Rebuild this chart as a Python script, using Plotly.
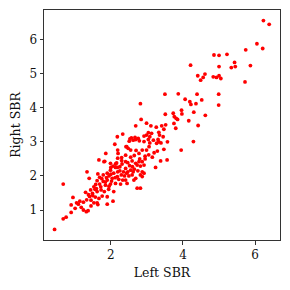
import plotly.graph_objects as go

# (Left SBR, Right SBR) readings
upper_x = [6.23, 6.39, 6.05, 6.21, 5.74, 4.86, 5.00, 5.22, 5.43, 5.45, 5.34, 5.87, 5.00, 4.21, 4.41, 4.61, 4.56, 4.49, 4.84, 4.93,
           5.00, 5.05, 5.72, 3.50, 3.87, 4.39, 4.99, 4.06, 4.19, 4.22, 4.52, 4.36, 4.99, 3.96, 3.97, 4.30, 4.62, 3.51, 3.73, 3.76,
           3.81, 3.85, 4.16, 3.75, 4.42, 3.52, 3.80, 2.99, 3.11, 3.26, 3.41, 3.47, 3.04, 3.13, 2.99, 3.33, 3.35, 3.45, 3.31, 3.39,
           3.27, 3.57, 4.29, 3.04, 3.08]
upper_y = [6.56, 6.45, 5.88, 5.74, 5.70, 5.55, 5.54, 5.57, 5.33, 5.21, 5.18, 5.24, 5.21, 5.25, 4.94, 4.99, 4.89, 4.81, 4.91, 4.89,
           4.94, 4.86, 4.76, 4.40, 4.41, 4.40, 4.40, 4.25, 4.18, 4.10, 4.23, 4.12, 4.08, 3.93, 3.82, 3.87, 3.78, 3.81, 3.84, 3.74,
           3.69, 3.66, 3.62, 3.54, 3.48, 3.50, 3.40, 3.55, 3.47, 3.43, 3.47, 3.37, 3.27, 3.25, 3.20, 3.28, 3.20, 3.15, 3.07, 2.97,
           2.96, 3.00, 3.01, 3.07, 2.97]

mid_x = [2.82, 2.84, 2.69, 2.33, 2.18, 2.53, 2.57, 2.67, 2.76, 2.51, 2.62, 2.79, 2.92, 2.11,
         2.92, 3.08, 2.69, 3.18, 3.33, 3.95, 3.47, 3.29, 3.06, 2.99, 2.87, 2.78, 2.55, 2.44,
         3.05, 3.15, 2.95, 3.20]
mid_y = [4.12, 3.66, 3.47, 3.23, 3.15, 3.09, 3.12, 3.13, 3.10, 3.02, 3.05, 3.03, 3.01, 2.93,
         3.17, 3.15, 3.07, 3.05, 3.00, 2.76, 2.78, 2.73, 2.86, 2.76, 2.76, 2.66, 2.76, 2.86,
         2.62, 2.55, 2.58, 2.68]

band_x = [3.24, 3.38, 3.56, 2.73, 2.82, 2.41, 2.45, 2.64, 2.87, 2.92, 2.82, 2.69, 2.59, 2.50, 2.44, 2.55, 2.62, 2.47, 2.41, 2.87,
          2.41, 2.47, 2.59, 2.69, 2.78, 2.73, 2.82, 2.87, 2.92,
          1.81, 1.86, 2.20, 2.30, 2.41, 2.42, 2.48, 2.13, 2.06, 2.18, 2.19, 2.19]
band_y = [2.25, 2.44, 2.47, 1.64, 1.64, 1.88, 1.78, 1.88, 1.98, 2.08, 2.03, 1.93, 2.03, 2.00, 2.08, 2.17, 2.12, 2.12, 2.22, 2.12,
          2.42, 2.39, 2.44, 2.37, 2.42, 2.32, 2.29, 2.42, 2.32,
          2.42, 2.66, 2.66, 2.54, 2.61, 2.86, 2.81, 2.35, 2.29, 2.25, 2.76, 2.52]

dense_x = [1.83, 1.99, 2.16, 2.25, 2.13, 2.31, 1.67, 1.34, 1.64, 1.69, 1.62, 1.40, 1.79, 1.90, 1.99, 2.08, 2.19, 2.29, 2.18, 2.04,
           1.90, 1.79, 1.69, 1.85, 1.99, 2.13, 2.27, 2.33, 1.53, 1.44, 1.56, 1.49, 1.62, 1.73, 1.82, 1.94, 2.08, 1.50, 1.41, 1.57,
           1.45, 1.53, 1.62, 1.67, 1.76, 1.90, 1.30, 1.64, 1.90, 2.06,
           1.58, 1.72, 1.88, 1.95, 2.02, 2.12, 2.22, 2.25, 2.35, 2.38, 2.52, 2.60, 2.65, 2.75, 2.80, 2.95, 2.55, 2.65, 2.70, 1.75,
           1.85, 1.60, 1.38, 1.33, 1.45, 1.18, 2.00, 2.30, 2.00, 1.95]
dense_y = [2.43, 2.37, 2.38, 2.27, 2.25, 2.35, 2.47, 2.12, 2.06, 1.96, 1.86, 1.93, 2.03, 2.08, 2.17, 2.08, 2.12, 2.03, 1.98, 1.93,
           1.88, 1.84, 1.76, 1.73, 1.76, 1.78, 1.76, 1.88, 1.68, 1.59, 1.61, 1.49, 1.54, 1.59, 1.54, 1.61, 1.54, 1.42, 1.40, 1.38,
           1.29, 1.21, 1.21, 1.34, 1.41, 1.39, 1.52, 1.16, 1.17, 1.26,
           1.75, 1.68, 1.95, 2.00, 1.85, 1.95, 1.90, 2.15, 2.12, 2.00, 2.30, 2.27, 2.20, 2.15, 2.50, 2.50, 2.55, 2.60, 2.75, 1.92,
           1.82, 1.63, 1.45, 1.30, 1.12, 1.08, 2.25, 2.45, 2.05, 1.70]

low_x = [0.44, 0.68, 0.76, 0.68, 0.90, 1.01, 0.90, 1.05, 1.10, 1.14, 1.24, 0.95, 1.24, 1.32, 1.37]
low_y = [0.43, 0.74, 0.79, 1.76, 0.93, 1.05, 1.15, 1.21, 1.17, 1.26, 1.23, 1.37, 1.00, 0.95, 0.98]

left_sbr = upper_x + mid_x + band_x + dense_x + low_x
right_sbr = upper_y + mid_y + band_y + dense_y + low_y

x_ticks = [2, 4, 6]
y_ticks = [1, 2, 3, 4, 5, 6]

tick_font = dict(family="DejaVu Serif", size=12, color="#111")
title_font = dict(family="DejaVu Serif", size=12.5, color="#111")

fig = go.Figure(go.Scatter(
    x=left_sbr, y=right_sbr, mode="markers",
    marker=dict(color="#ff0000", size=3.8, line=dict(width=0)),
    hoverinfo="skip"))

axis_common = dict(showline=True, mirror=True, linecolor="#333", linewidth=1,
                   ticks="outside", ticklen=3.5, tickcolor="#333", tickwidth=1,
                   showgrid=False, zeroline=False, tickfont=tick_font, automargin=False)

# the page body adds an 8px offset, so the figure is sized to fit the window
fig.update_layout(
    width=282, height=282,
    margin=dict(l=36, r=10, t=2, b=50),
    plot_bgcolor="white", paper_bgcolor="white",
    showlegend=False,
    font=tick_font,
    xaxis=dict(range=[0.147, 6.69], tickvals=x_ticks,
               title=dict(text="Left SBR", font=title_font, standoff=7), **axis_common),
    yaxis=dict(range=[0.12, 6.87], tickvals=y_ticks,
               title=dict(text="Right SBR", font=title_font, standoff=8), **axis_common),
)

fig.write_html("out.html")
